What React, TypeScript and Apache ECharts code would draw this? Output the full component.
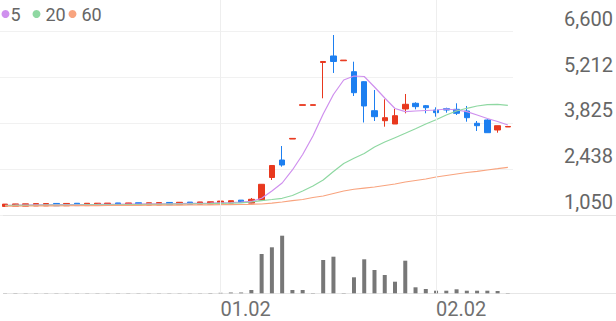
import { useEffect, useRef } from 'react';
import * as echarts from 'echarts';

// ---- data ----
const categories = [
  '12.02', '12.05', '12.06', '12.07', '12.08', '12.09', '12.12', '12.13', '12.14', '12.15',
  '12.16', '12.19', '12.20', '12.21', '12.22', '12.23', '12.26', '12.27', '12.28', '12.29',
  '12.30', '01.02', '01.03', '01.04', '01.05', '01.06', '01.09', '01.10', '01.11', '01.12',
  '01.13', '01.16', '01.17', '01.18', '01.19', '01.20', '01.25', '01.26', '01.27', '01.30',
  '01.31', '02.01', '02.02', '02.03', '02.06', '02.07', '02.08', '02.09', '02.10', '02.13',
];

// [open, close, low, high]
const candles = [
  [1310, 1380, 1308, 1382], [1315, 1385, 1313, 1387], [1317, 1387, 1315, 1389], [1325, 1395, 1323, 1397],
  [1327, 1397, 1325, 1399], [1400, 1330, 1328, 1402], [1330, 1400, 1328, 1402], [1405, 1335, 1333, 1407],
  [1335, 1405, 1333, 1407], [1337, 1407, 1335, 1409], [1340, 1410, 1338, 1412], [1415, 1345, 1343, 1417],
  [1345, 1415, 1343, 1417], [1420, 1350, 1348, 1422], [1350, 1420, 1348, 1422], [1355, 1425, 1353, 1427],
  [1430, 1360, 1358, 1432], [1365, 1435, 1363, 1437], [1440, 1370, 1368, 1442], [1375, 1445, 1373, 1447],
  [1380, 1450, 1378, 1452], [1402, 1472, 1400, 1474], [1412, 1482, 1410, 1484], [1500, 1430, 1428, 1502],
  [1410, 1525, 1405, 1565], [1504, 1980, 1500, 1985], [2185, 2549, 2110, 2560], [2715, 2564, 2513, 3139],
  [3350, 3370, 3350, 3370], [4370, 4390, 4370, 4390], [4370, 4390, 4370, 4390], [5668, 5698, 4584, 5700],
  [5865, 5698, 5350, 6500], [5720, 5740, 5720, 5740], [5389, 4753, 4653, 5692], [5086, 4351, 3851, 5100],
  [4208, 4027, 3896, 4835], [3905, 3996, 3724, 4553], [3805, 4057, 3805, 4260], [4260, 4402, 4129, 4714],
  [4432, 4330, 4250, 4463], [4360, 4299, 4129, 4381], [4229, 4148, 4027, 4311], [4269, 4229, 4148, 4299],
  [4250, 4129, 4078, 4432], [4199, 3996, 3875, 4351], [3827, 3754, 3594, 3896], [3927, 3542, 3542, 3948],
  [3624, 3754, 3542, 3754], [3715, 3730, 3715, 3730],
];

const ma5 = [
  1345, 1348, 1352, 1356, 1360, 1362, 1364, 1366, 1368, 1370, 1373, 1375, 1378, 1381, 1384, 1388,
  1391, 1395, 1399, 1403, 1408, 1418, 1428, 1440, 1460, 1556, 1777, 2019, 2413, 2882, 3442, 4108,
  4699, 5138, 5259, 5244, 4926, 4593, 4275, 4178, 4199, 4214, 4229, 4260, 4229, 4178, 4078, 3972,
  3881, 3775,
];
const ma20 = [
  1338, 1340, 1342, 1344, 1346, 1348, 1350, 1352, 1354, 1356, 1358, 1361, 1364, 1367, 1370, 1374,
  1378, 1382, 1386, 1391, 1396, 1405, 1412, 1420, 1444, 1483, 1519, 1556, 1640, 1777, 1928, 2110,
  2367, 2609, 2767, 2912, 3109, 3260, 3391, 3524, 3660, 3805, 3936, 4078, 4199, 4281, 4351, 4390,
  4402, 4372,
];
const ma60 = [
  1318, 1320, 1322, 1324, 1326, 1328, 1330, 1332, 1334, 1336, 1338, 1340, 1342, 1344, 1346, 1348,
  1350, 1352, 1354, 1356, 1358, 1362, 1365, 1368, 1374, 1383, 1407, 1444, 1483, 1519, 1580, 1625,
  1701, 1777, 1830, 1865, 1898, 1943, 1989, 2049, 2095, 2140, 2201, 2246, 2291, 2337, 2373, 2413,
  2452, 2494,
];

// volume, thousand shares
const volumes = [
  20, 20, 20, 20, 20, 20, 20, 20, 20, 20, 20, 20, 20, 20, 20, 20,
  20, 20, 20, 20, 30, 50, 80, 80, 330, 3930, 4600, 5760, 330, 330, 30, 3330,
  3660, 30, 1600, 3400, 2330, 1830, 1160, 3260, 600, 430, 260, 260, 400, 260, 260, 260,
  230, 30,
];

const priceTickLabels = ['1,050', '2,438', '3,825', '5,212', '6,600'];
const priceMin = 1050;
const priceMax = 6600;
const priceStep = 1387.5;
const volumeMax = 7830;
const xLabelDates = ['01.02', '02.02'];

const maNames = ['5', '20', '60'];
const maColors = ['#cf90ee', '#8fd8a2', '#f8a47f'];
const UP = '#e8381e';
const DOWN = '#1d7ff0';
const FONT = 'Roboto';

const legendLefts = [1.5, 32.5, 68.5];
const legendTextPad = [[0, 0, 0, -4], [0, 0, 0, 0], [0, 0, 0, 0]];

export default function App() {
  const ref = useRef<HTMLDivElement>(null);
  useEffect(() => {
    document.body.style.margin = '0';
    const chart = echarts.init(ref.current!, null, { renderer: 'svg' });
    const maData = [ma5, ma20, ma60];
    chart.setOption({
      animation: false,
      backgroundColor: '#ffffff',
      legend: maNames.map((n, k) => ({
        left: legendLefts[k],
        top: 5,
        padding: 0,
        itemWidth: 8,
        itemHeight: 8,
        icon: 'circle',
        selectedMode: false,
        textStyle: { fontSize: 18, color: '#666666', fontFamily: FONT, padding: legendTextPad[k] },
        data: [n],
      })),
      grid: [
        { left: 0, right: 103, top: 31.7, bottom: 106 },
        { left: 0, right: 103, top: 215, bottom: 27.7 },
        { left: 0, right: 103, top: 0, bottom: 27.7 },
        { left: 3, right: 0, top: 215, bottom: 27.7 },
      ],
      xAxis: [
        {
          type: 'category', gridIndex: 0, data: categories, boundaryGap: true,
          axisLine: { show: false }, axisTick: { show: false }, axisLabel: { show: false }, splitLine: { show: false },
        },
        {
          type: 'category', gridIndex: 1, data: categories, boundaryGap: true,
          axisLine: { show: false }, axisTick: { show: false }, splitLine: { show: false },
          axisLabel: {
            interval: (_i: number, v: string) => xLabelDates.includes(v),
            align: 'left',
            margin: 6,
            fontSize: 20,
            color: '#707070',
            fontFamily: FONT,
          },
        },
        {
          type: 'category', gridIndex: 2, data: categories, boundaryGap: true, show: false,
        },
        {
          type: 'value', gridIndex: 3, min: 0, max: 1, show: false,
        },
      ],
      yAxis: [
        {
          type: 'value', gridIndex: 0, position: 'right',
          min: priceMin, max: priceMax, interval: priceStep,
          axisLine: { show: false }, axisTick: { show: false },
          splitLine: { show: true, lineStyle: { color: '#f1f1f1', width: 1 } },
          axisLabel: {
            align: 'right',
            margin: 100,
            verticalAlign: 'bottom',
            padding: [0, 0, 3, 0],
            fontSize: 20,
            color: '#666666',
            fontFamily: FONT,
            formatter: (v: number) => priceTickLabels[Math.round((v - priceMin) / priceStep)] ?? '',
          },
        },
        { type: 'value', gridIndex: 1, min: 0, max: volumeMax, show: false, splitLine: { show: false } },
        { type: 'value', gridIndex: 2, min: 0, max: 1, show: false, splitLine: { show: false } },
        {
          type: 'value', gridIndex: 3, min: 0, max: 1, interval: 1,
          axisLine: { show: false }, axisTick: { show: false }, axisLabel: { show: false },
          splitLine: { show: true, lineStyle: { color: '#e6e6e6', width: 1 } },
        },
      ],
      series: [
        {
          type: 'line', xAxisIndex: 2, yAxisIndex: 2, data: categories.map(() => null),
          silent: true, showSymbol: false,
          markLine: {
            silent: true, symbol: ['none', 'none'], label: { show: false },
            lineStyle: { color: '#eeeeee', width: 1, type: 'solid' },
            data: xLabelDates.map((d) => ({ xAxis: d })),
          },
        },
        ...maNames.map((n, k) => ({
          name: n, type: 'line', xAxisIndex: 0, yAxisIndex: 0, data: maData[k],
          showSymbol: false, symbol: 'circle', color: maColors[k],
          lineStyle: { color: maColors[k], width: 1.2 },
        })),
        {
          type: 'candlestick', xAxisIndex: 0, yAxisIndex: 0, data: candles, barWidth: 6,
          itemStyle: { color: UP, color0: DOWN, borderColor: UP, borderColor0: DOWN, borderWidth: 1 },
        },
        {
          type: 'bar', xAxisIndex: 1, yAxisIndex: 1, data: volumes, barWidth: 4,
          itemStyle: { color: '#777777' },
        },
      ],
    });
    return () => chart.dispose();
  }, []);
  return <div ref={ref} style={{ position: 'fixed', left: 0, top: 0, width: 616, height: 321 }} />;
}
